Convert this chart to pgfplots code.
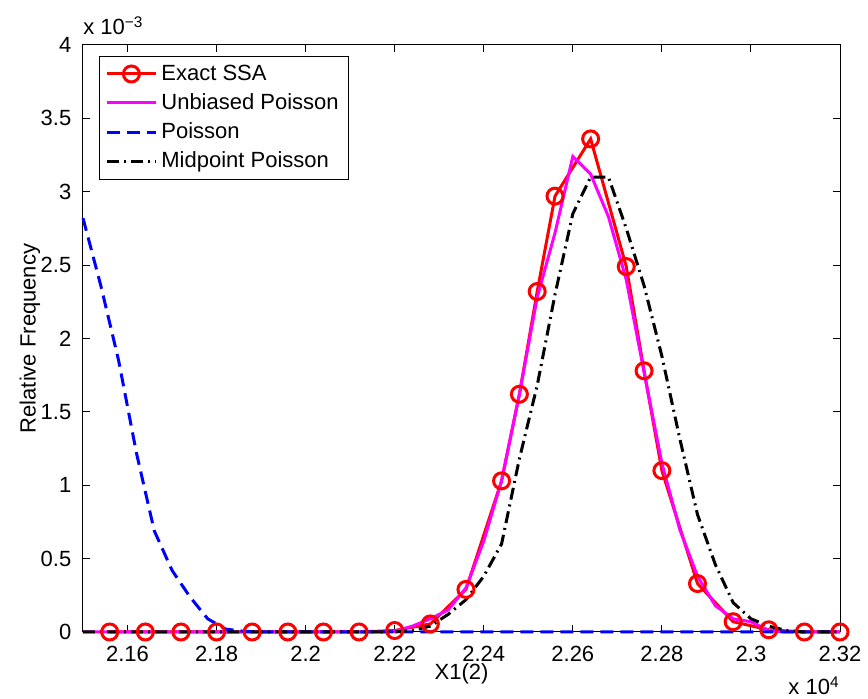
\documentclass[border=0pt]{standalone}
\usepackage{fontspec}
\setmainfont{Liberation Sans}
\usepackage{pgfplots}
\pgfplotsset{compat=1.18}
\definecolor{ssared}{RGB}{255,0,0}
\definecolor{unbmag}{RGB}{255,0,255}
\definecolor{poisblue}{RGB}{0,0,255}

% Relative frequencies (units of 1e-3) against X1(2) (units of 1e4)
\pgfplotstableread{
x      y
2.156  0
2.164  0
2.172  0
2.180  0
2.188  0
2.196  0
2.204  0
2.212  0
2.220  0.01
2.228  0.055
2.236  0.29
2.244  1.03
2.248  1.62
2.252  2.32
2.256  2.97
2.264  3.36
2.272  2.49
2.276  1.78
2.280  1.10
2.288  0.33
2.296  0.07
2.304  0.015
2.312  0
2.320  0
}\ssa

\pgfplotstableread{
x      y
2.150  0
2.216  0
2.220  0.005
2.224  0.04
2.228  0.09
2.232  0.15
2.236  0.30
2.240  0.62
2.244  1.03
2.248  1.62
2.252  2.28
2.256  2.72
2.260  3.24
2.264  3.12
2.268  2.83
2.272  2.40
2.276  1.77
2.280  1.15
2.284  0.70
2.288  0.38
2.292  0.18
2.296  0.09
2.300  0.07
2.304  0.01
2.308  0
2.320  0
}\unbiased

\pgfplotstableread{
x      y
2.150  2.82
2.154  2.36
2.158  1.85
2.162  1.22
2.166  0.69
2.170  0.42
2.174  0.24
2.178  0.09
2.182  0.02
2.186  0.005
2.190  0
2.320  0
}\poisson

\pgfplotstableread{
x      y
2.150  0
2.220  0
2.224  0.01
2.228  0.04
2.232  0.12
2.236  0.22
2.240  0.38
2.244  0.60
2.248  1.18
2.252  1.68
2.256  2.30
2.260  2.85
2.264  3.10
2.268  3.10
2.272  2.75
2.276  2.36
2.280  1.88
2.284  1.32
2.288  0.80
2.292  0.46
2.296  0.20
2.300  0.09
2.304  0.04
2.308  0.01
2.312  0
2.320  0
}\midpoint

\begin{document}
\fontsize{11}{13}\selectfont
\begin{tikzpicture}
\path[use as bounding box] (-41.5pt,-33.5pt) rectangle (392.5pt,316pt);
\begin{axis}[
  scale only axis, width=378.5pt, height=293.5pt,
  xmin=2.15, xmax=2.32, ymin=0, ymax=4,
  xtick={2.16,2.18,2.2,2.22,2.24,2.26,2.28,2.3,2.32},
  ytick={0,0.5,1,1.5,2,2.5,3,3.5,4},
  scaled ticks=false,
  tick align=inside, major tick length=3.5pt,
  axis line style={line width=0.5pt},
  every tick/.style={black, line width=0.5pt},
  /pgf/number format/assume math mode=true,
  xticklabel style={yshift=-3pt},
  yticklabel style={xshift=-2pt},
  ylabel={Relative Frequency},
  ylabel style={at={(axis description cs:-0.07,0.5)}, anchor=center},
  legend style={at={(0.021,0.981)}, anchor=north west, draw=black,
    line width=0.5pt, inner xsep=3pt, inner ysep=2pt, row sep=1pt},
  legend cell align=left,
  legend image code/.code={
    \draw[mark repeat=2,mark phase=2] plot coordinates {(0pt,0pt) (12.25pt,0pt) (24.5pt,0pt)};},
  clip=false,
]
\addplot[ssared, line width=1.5pt, mark=o, mark size=4pt, mark options={solid, line width=1.5pt}] table[x=x,y=y] {\ssa};
\addlegendentry{Exact SSA}
\addplot[unbmag, line width=1.5pt] table[x=x,y=y] {\unbiased};
\addlegendentry{Unbiased Poisson\hspace{15pt}}
\addplot[poisblue, line width=1.5pt, dash pattern=on 6.5pt off 3.5pt] table[x=x,y=y] {\poisson};
\addlegendentry{Poisson}
\addplot[black, line width=1.5pt, dash pattern=on 6pt off 2.5pt on 1pt off 2.5pt] table[x=x,y=y] {\midpoint};
\addlegendentry{Midpoint Poisson}
% axis annotations: x label and the exponent factors
\node[anchor=center, inner sep=0pt] at (rel axis cs:0.5,0) [yshift=-21pt] {X1(2)};
\node[anchor=base west, inner sep=0pt] at (rel axis cs:0,1) [yshift=5pt] {x 10\textsuperscript{−3}};
\node[anchor=base east, inner sep=0pt] at (rel axis cs:1,0) [yshift=-31.5pt] {x 10\textsuperscript{4}};
\end{axis}
\end{tikzpicture}
\end{document}
